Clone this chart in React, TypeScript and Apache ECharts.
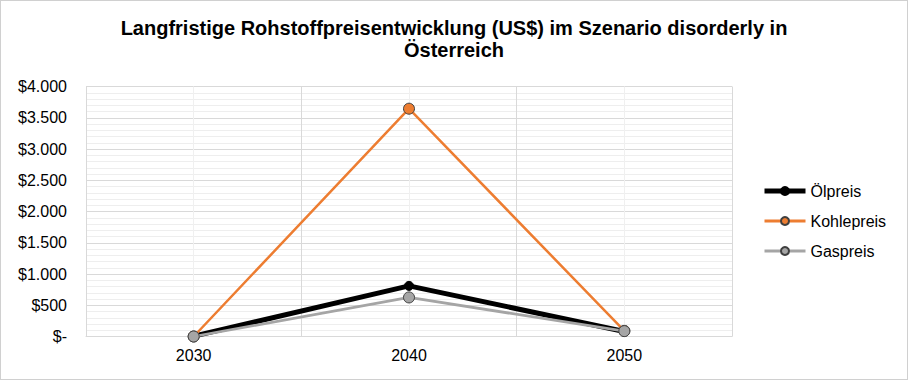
import React, { useEffect, useRef } from "react";
import * as echarts from "echarts";

const years = ["2030", "2040", "2050"];
const oilPrice = [5, 810, 80];
const coalPrice = [0, 3645, 90];
const gasPrice = [0, 625, 86];
const seriesNames = ["Ölpreis", "Kohlepreis", "Gaspreis"];

const FONT = "'Liberation Sans', Arial, sans-serif";

function fmt(v: number): string {
  if (v === 0) return "$-";
  return "$" + v.toLocaleString("de-DE");
}

export default function App() {
  const ref = useRef<HTMLDivElement>(null);
  useEffect(() => {
    document.body.style.margin = "0";
    const chart = echarts.init(ref.current!, undefined, { renderer: "svg" });
    chart.setOption({
      animation: false,
      backgroundColor: "#ffffff",
      title: {
        text: "Langfristige Rohstoffpreisentwicklung (US$) im Szenario disorderly in\nÖsterreich",
        left: "center",
        top: 11,
        textStyle: {
          fontFamily: FONT,
          fontSize: 20,
          fontWeight: "bold",
          color: "#000000",
          lineHeight: 22,
        },
      },
      legend: {
        orient: "vertical",
        left: 756,
        top: 177,
        itemWidth: 41,
        itemHeight: 10,
        itemGap: 14,
        textStyle: { fontFamily: FONT, fontSize: 16, color: "#000000" },
        data: [
          { name: seriesNames[0], lineStyle: { width: 5 } },
          { name: seriesNames[1], lineStyle: { width: 3 } },
          { name: seriesNames[2], lineStyle: { width: 3 } },
        ],
      },
      grid: { left: 85, right: 175, top: 85.5, bottom: 42.5 },
      xAxis: [
        {
          type: "category",
          data: years,
          boundaryGap: true,
          axisLine: { show: true, lineStyle: { color: "#d9d9d9", width: 1 } },
          axisTick: { show: false },
          axisLabel: { fontFamily: FONT, fontSize: 16, color: "#000000", margin: 11 },
          splitLine: { show: true, lineStyle: { color: "#d9d9d9", width: 1 } },
        },
        {
          type: "value",
          min: 0,
          max: 6,
          interval: 1,
          show: true,
          position: "bottom",
          axisLine: { show: false },
          axisTick: { show: false },
          axisLabel: { show: false },
          splitLine: {
            show: true,
            lineStyle: { color: ["rgba(0,0,0,0)", "#f0f0f0"], width: 1 },
          },
        },
      ],
      yAxis: {
        type: "value",
        min: 0,
        max: 4000,
        interval: 500,
        axisLine: { show: true, lineStyle: { color: "#d9d9d9", width: 1 } },
        axisTick: { show: false },
        axisLabel: {
          fontFamily: FONT,
          fontSize: 16,
          color: "#000000",
          margin: 19,
          formatter: (v: number) => fmt(v),
        },
        splitLine: { show: true, lineStyle: { color: "#d9d9d9", width: 1 } },
        minorTick: { show: false, splitNumber: 5 },
        minorSplitLine: { show: true, lineStyle: { color: "#eeeeee", width: 1 } },
      },
      series: [
        {
          name: seriesNames[0],
          type: "line",
          data: oilPrice,
          z: 3,
          lineStyle: { color: "#000000", width: 5 },
          itemStyle: { color: "#000000", borderColor: "#000000", borderWidth: 1 },
          symbol: "circle",
          symbolSize: 9,
          showAllSymbol: true,
        },
        {
          name: seriesNames[1],
          type: "line",
          data: coalPrice,
          z: 4,
          lineStyle: { color: "#ED7D31", width: 2.5 },
          itemStyle: { color: "#ED7D31", borderColor: "#404040", borderWidth: 1 },
          symbol: "circle",
          symbolSize: 11,
        },
        {
          name: seriesNames[2],
          type: "line",
          data: gasPrice,
          z: 5,
          lineStyle: { color: "#A5A5A5", width: 2.75 },
          itemStyle: { color: "#A5A5A5", borderColor: "#404040", borderWidth: 1 },
          symbol: "circle",
          symbolSize: 11,
        },
      ],
    });
    return () => chart.dispose();
  }, []);
  return (
    <div
      style={{
        width: 908,
        height: 380,
        boxSizing: "border-box",
        border: "1px solid #d0d0d0",
        position: "relative",
      }}
    >
      <div ref={ref} style={{ width: 906, height: 378 }} />
    </div>
  );
}
